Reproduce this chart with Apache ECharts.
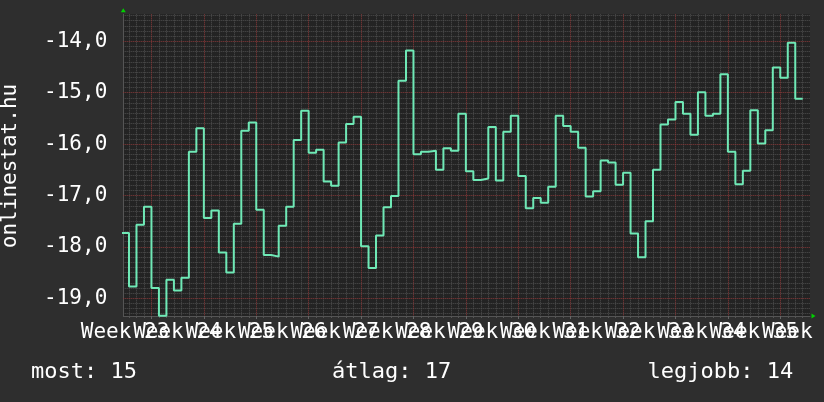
<!DOCTYPE html>
<html>
<head>
<meta charset="utf-8">
<script src="https://cdn.jsdelivr.net/npm/echarts@6/dist/echarts.min.js"></script>
<style>
  html, body { margin: 0; padding: 0; background: #2e2e2e; }
  #chart { width: 824px; height: 402px; }
</style>
</head>
<body>
<div id="chart"></div>
<script>
// napi helyezes (negativ rang), az elso nap csak reszben latszik
const rankValues = [
  -17.73, -18.77, -17.57, -17.22, -18.80, -19.34, -18.64, -18.85, -18.60, -16.15,
  -15.69, -17.44, -17.29, -18.11, -18.50, -17.55, -15.74, -15.58, -17.28, -18.16,
  -18.19, -17.59, -17.22, -15.92, -15.35, -16.17, -16.11, -16.73, -16.81, -15.97,
  -15.61, -15.47, -17.99, -18.41, -17.78, -17.23, -17.01, -14.77, -14.18, -16.20,
  -16.15, -16.13, -16.50, -16.08, -16.13, -15.41, -16.53, -16.70, -16.67, -15.67,
  -16.71, -15.76, -15.45, -16.62, -17.25, -17.05, -17.14, -16.83, -15.45, -15.65,
  -15.76, -16.07, -17.02, -16.92, -16.32, -16.36, -16.79, -16.56, -17.74, -18.20,
  -17.50, -16.50, -15.62, -15.52, -15.18, -15.41, -15.82, -14.99, -15.45, -15.41,
  -14.64, -16.15, -16.78, -16.52, -15.34, -15.99, -15.73, -14.51, -14.71, -14.03,
  -15.12
];
const weekLabels = ['Week 23', 'Week 24', 'Week 25', 'Week 26', 'Week 27', 'Week 28', 'Week 29',
  'Week 30', 'Week 31', 'Week 32', 'Week 33', 'Week 34', 'Week 35', 'Week 36'];
const yTickValues = [-19, -18, -17, -16, -15, -14];
const summary = [['most', 15], ['átlag', 17], ['legjobb', 14]];

// tengely tartomanyok (napokban / rangban)
const X_MIN = 0.24, X_MAX = 91.97;
const Y_MIN = -19.345, Y_MAX = -13.475;
const LABEL_START = 0.47;   // elso felirat helye
const WEEK_START = 4;       // elso heti racsvonal

const FONT = 'DejaVu Sans Mono';

let labelPos = weekLabels.map((l, i) => LABEL_START + 7 * i);
// a feliratok egymasra lognak, ezert ket tengelyre osztjuk oket (kulonben az echarts elrejti)
let labelPosEven = labelPos.filter((p, i) => i % 2 === 0);
let labelPosOdd = labelPos.filter((p, i) => i % 2 === 1);
let weekLines = [], dayLines = [], yMinor = [];
for (let d = WEEK_START; d < X_MAX; d += 7) weekLines.push(d);
for (let d = Math.ceil(X_MIN); d < X_MAX; d++) {
  if ((d - WEEK_START) % 7 !== 0) dayLines.push(d);
}
for (let i = Math.ceil(Y_MIN * 10); i <= Math.floor(Y_MAX * 10); i++) {
  if (i % 10 !== 0) yMinor.push(i / 10);
}

// lepcsos vonal: minden nap a kezdetetol a kovetkezo napig
let seriesData = rankValues.map((v, i) => [i, v]);
seriesData.push([rankValues.length, rankValues[rankValues.length - 1]]);

let myChart = echarts.init(document.getElementById('chart'));

const minorLine = {show: true, lineStyle: {color: '#505050', width: 1, type: [1, 1]}};
const majorLine = {show: true, lineStyle: {color: '#8a3a3a', width: 1, type: [1, 1]}};

function labelAxis(values) {
  return {
    type: 'value', min: X_MIN, max: X_MAX, position: 'bottom', z: 1,
    axisLine: {show: false},
    axisTick: {show: false},
    splitLine: {show: false},
    axisLabel: {
      customValues: values,
      showMinLabel: true, showMaxLabel: true, hideOverlap: false,
      color: '#ffffff', fontFamily: FONT, fontSize: 21, margin: 6,
      formatter: v => weekLabels[Math.round((v - LABEL_START) / 7)] || ''
    }
  };
}

myChart.setOption({
  animation: false,
  backgroundColor: '#2e2e2e',
  grid: {
    left: 123.3, top: 14.3, width: 686.7, height: 301.7,
    show: true, backgroundColor: '#232323', borderWidth: 0,
    containLabel: false, outerBoundsMode: 'none'
  },
  xAxis: [
    { // napi racs
      type: 'value', min: X_MIN, max: X_MAX, position: 'bottom', z: 0,
      axisLine: {show: true, lineStyle: {color: '#555555', width: 1}},
      axisTick: {show: true, customValues: dayLines, length: 2, lineStyle: {color: '#555555'}},
      axisLabel: {show: false},
      splitLine: minorLine
    },
    { // heti racs + nyil
      type: 'value', min: X_MIN, max: X_MAX, position: 'bottom', z: 1,
      axisLine: {
        show: true, symbol: ['none', 'triangle'], symbolSize: [5, 4], symbolOffset: [0, 3.5],
        lineStyle: {color: '#00d000', width: 0}
      },
      axisTick: {show: true, customValues: weekLines, length: 3, lineStyle: {color: '#666666'}},
      axisLabel: {show: false},
      splitLine: majorLine
    },
    labelAxis(labelPosEven),
    labelAxis(labelPosOdd)
  ],
  yAxis: [
    {
      type: 'value', min: Y_MIN, max: Y_MAX, position: 'left', z: 1,
      axisLine: {
        show: true, symbol: ['none', 'triangle'], symbolSize: [5, 4], symbolOffset: [0, 4],
        lineStyle: {color: '#00d000', width: 0}
      },
      axisTick: {show: false, customValues: yTickValues},
      axisLabel: {
        customValues: yTickValues,
        showMinLabel: true, showMaxLabel: true,
        color: '#ffffff', fontFamily: FONT, fontSize: 21, margin: 16,
        formatter: v => v.toFixed(1).replace('.', ',')
      },
      splitLine: majorLine
    },
    {
      type: 'value', min: Y_MIN, max: Y_MAX, position: 'left', z: 0,
      axisLine: {show: true, lineStyle: {color: '#555555', width: 1}},
      axisTick: {show: false, customValues: yMinor},
      axisLabel: {show: false},
      splitLine: minorLine
    }
  ],
  series: [{
    type: 'line',
    xAxisIndex: 2,
    yAxisIndex: 0,
    data: seriesData,
    step: 'end',
    symbol: 'none',
    clip: true,
    z: 5,
    lineStyle: {color: '#6fe9b6', width: 2}
  }],
  graphic: [
    {
      type: 'text', x: 11, y: 166, rotation: Math.PI / 2,
      style: {text: 'onlinestat.hu', fill: '#ffffff', font: '21px "' + FONT + '"', align: 'center', verticalAlign: 'middle'}
    },
    {
      type: 'text', x: 31, y: 372.4,
      style: {text: summary[0][0] + ': ' + summary[0][1], fill: '#ffffff', font: '22px "' + FONT + '"', verticalAlign: 'middle'}
    },
    {
      type: 'text', x: 332, y: 372.4,
      style: {text: summary[1][0] + ': ' + summary[1][1], fill: '#ffffff', font: '22px "' + FONT + '"', verticalAlign: 'middle'}
    },
    {
      type: 'text', x: 647.5, y: 372.4,
      style: {text: summary[2][0] + ': ' + summary[2][1], fill: '#ffffff', font: '22px "' + FONT + '"', verticalAlign: 'middle'}
    }
  ]
});
</script>
</body>
</html>
